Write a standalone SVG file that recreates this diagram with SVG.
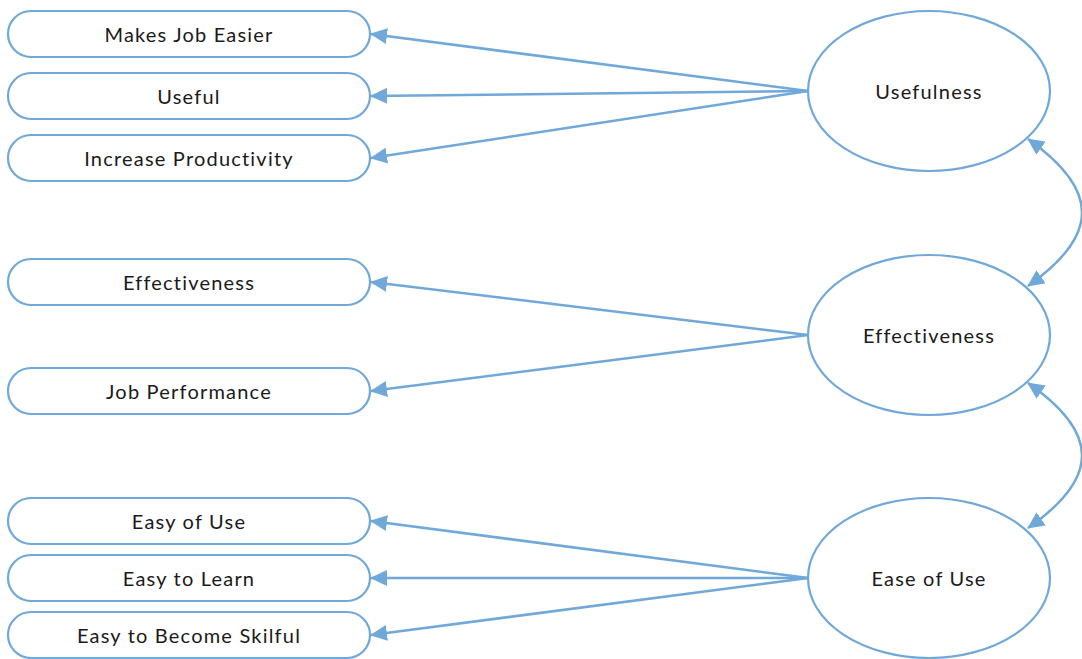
<svg xmlns="http://www.w3.org/2000/svg" width="1082" height="659" viewBox="0 0 1082 659">
<style>
.box{fill:#fff;stroke:#6fa8d9;stroke-width:2.2}
.ell{fill:#fff;stroke:#6fa8d9;stroke-width:2.2}
.lbl{font-family:Lato,"Liberation Sans",sans-serif;font-size:20px;letter-spacing:1.2px;fill:#1a1a1a;text-anchor:middle;dominant-baseline:central}
.con{fill:none;stroke:#6fa8d9;stroke-width:2.5}
</style>
<defs>
<marker id="ah" markerUnits="userSpaceOnUse" markerWidth="18" markerHeight="16" refX="16" refY="8" orient="auto-start-reverse" viewBox="0 0 18 16">
<path d="M0,0 L17,8 L0,16 z" fill="#6fa8d9"/>
</marker>
</defs>
<rect width="1082" height="659" fill="#fff"/>
<g id="connectors">
<line class="con" x1="808" y1="91" x2="371" y2="34" marker-end="url(#ah)"/>
<line class="con" x1="808" y1="91" x2="371" y2="96" marker-end="url(#ah)"/>
<line class="con" x1="808" y1="91" x2="371" y2="158" marker-end="url(#ah)"/>
<line class="con" x1="808" y1="335" x2="371" y2="282" marker-end="url(#ah)"/>
<line class="con" x1="808" y1="335" x2="371" y2="391" marker-end="url(#ah)"/>
<line class="con" x1="808" y1="578" x2="371" y2="521" marker-end="url(#ah)"/>
<line class="con" x1="808" y1="578" x2="371" y2="578" marker-end="url(#ah)"/>
<line class="con" x1="808" y1="578" x2="371" y2="635" marker-end="url(#ah)"/>
<path class="con" d="M1028,139 C1100,190 1100,235 1028,286" marker-start="url(#ah)" marker-end="url(#ah)"/>
<path class="con" d="M1028,383 C1100,433 1100,478 1028,528" marker-start="url(#ah)" marker-end="url(#ah)"/>
</g>
<g id="n-makes"><rect class="box" x="8" y="11" width="362" height="46" rx="23"/><text class="lbl" x="189" y="34">Makes Job Easier</text></g>
<g id="n-useful"><rect class="box" x="8" y="73" width="362" height="46" rx="23"/><text class="lbl" x="189" y="96">Useful</text></g>
<g id="n-prod"><rect class="box" x="8" y="135" width="362" height="46" rx="23"/><text class="lbl" x="189" y="158">Increase Productivity</text></g>
<g id="n-eff"><rect class="box" x="8" y="259" width="362" height="46" rx="23"/><text class="lbl" x="189" y="282">Effectiveness</text></g>
<g id="n-jobperf"><rect class="box" x="8" y="368" width="362" height="46" rx="23"/><text class="lbl" x="189" y="391">Job Performance</text></g>
<g id="n-easyuse"><rect class="box" x="8" y="498" width="362" height="46" rx="23"/><text class="lbl" x="189" y="521">Easy of Use</text></g>
<g id="n-learn"><rect class="box" x="8" y="555" width="362" height="46" rx="23"/><text class="lbl" x="189" y="578">Easy to Learn</text></g>
<g id="n-skil"><rect class="box" x="8" y="612" width="362" height="46" rx="23"/><text class="lbl" x="189" y="635">Easy to Become Skilful</text></g>
<g id="e-usefulness"><ellipse class="ell" cx="929" cy="91" rx="121" ry="80"/><text class="lbl" x="929" y="91">Usefulness</text></g>
<g id="e-effectiveness"><ellipse class="ell" cx="929" cy="335" rx="121" ry="80"/><text class="lbl" x="929" y="335">Effectiveness</text></g>
<g id="e-ease"><ellipse class="ell" cx="929" cy="578" rx="121" ry="80"/><text class="lbl" x="929" y="578">Ease of Use</text></g>
</svg>
